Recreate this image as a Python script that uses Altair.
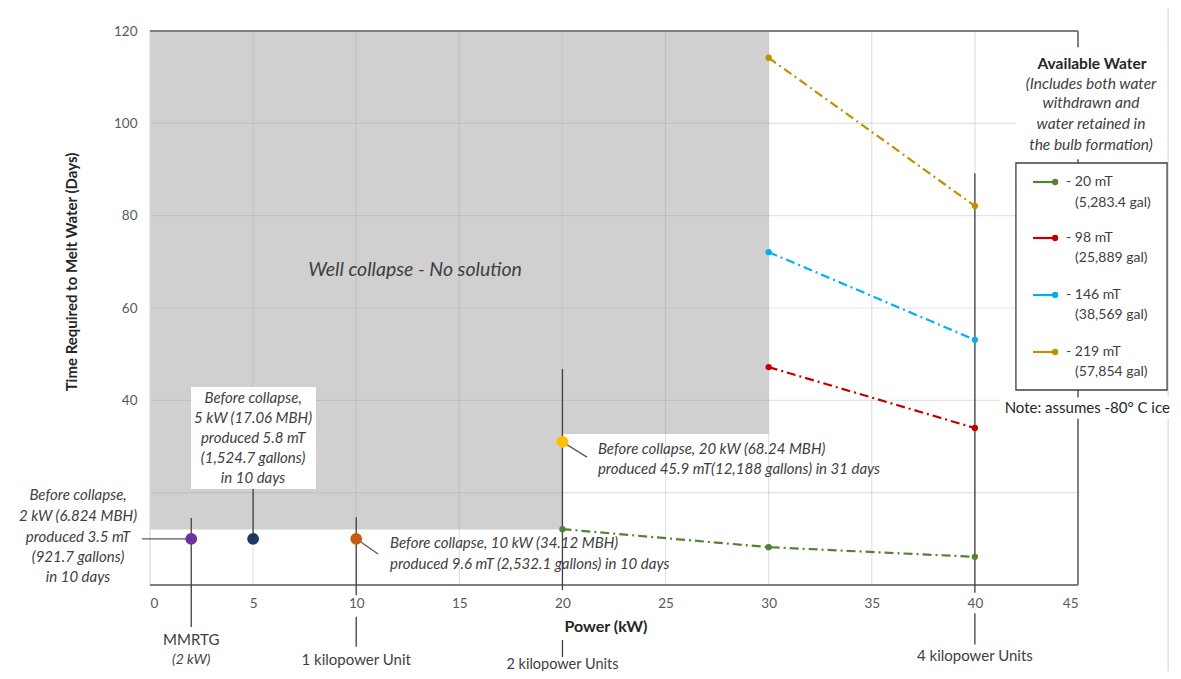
import altair as alt
import pandas as pd

# ---------------- data ----------------
x_ticks = [0, 5, 10, 15, 20, 25, 30, 35, 40, 45]
y_ticks = [20, 40, 60, 80, 100, 120]
x_grid = [5, 10, 15, 20, 25, 30, 35, 40]
y_grid = [20, 40, 60, 80, 100]

series_names = ["20 mT", "98 mT", "146 mT", "219 mT"]
series_gallons = ["(5,283.4 gal)", "(25,889 gal)", "(38,569 gal)", "(57,854 gal)"]
series_colors = ["#548235", "#C00000", "#00B0F0", "#BF9000"]
power_20mT = [20, 30, 40]
days_20mT = [12.1, 8.2, 6.1]
power_98mT = [30, 40]
days_98mT = [47.2, 34.0]
power_146mT = [30, 40]
days_146mT = [72.1, 53.1]
power_219mT = [30, 40]
days_219mT = [114.2, 82.1]

collapse_power = [2, 5, 10, 20]
collapse_days = [10, 10, 10, 31]
collapse_colors = ["#7030A0", "#1F3864", "#C55A11", "#FFC000"]

# "Well collapse - No solution" zone (kW from/to, days from/to)
zone_x = [0, 20]
zone_x2 = [20, 30]
zone_y = [12, 32.7]
zone_y2 = [120, 120]

FONT = "Lato"
TXT = "#404040"

# ---------------- scales ----------------
xs = alt.Scale(domain=[0, 45], nice=False, zero=False)
ys = alt.Scale(domain=[0, 120], nice=False, zero=False)
xaxis = alt.Axis(values=x_ticks, grid=False, domain=False, ticks=False, tickSize=0,
                 labelPadding=11, labelFontSize=13.5, labelColor="#595959",
                 labelFont=FONT, title=None)
yaxis = alt.Axis(values=y_ticks, grid=False, domain=False, ticks=False, tickSize=0,
                 labelPadding=13, labelFontSize=13.5, labelColor="#595959",
                 labelFont=FONT, title=None, labelExpr="datum.value < 30 ? '' : datum.label")


def X(f="x"):
    return alt.X(f"{f}:Q", scale=xs, axis=xaxis)


def Y(f="y"):
    return alt.Y(f"{f}:Q", scale=ys, axis=yaxis)


def rules(rows, color, width=1.0, opacity=1.0, dash=None):
    df = pd.DataFrame(rows, columns=["x", "x2", "y", "y2"])
    kw = dict(color=color, strokeWidth=width, opacity=opacity)
    if dash:
        kw["strokeDash"] = dash
    return alt.Chart(df).mark_rule(**kw).encode(x=X(), x2="x2:Q", y=Y(), y2="y2:Q")


def texts(rows, size=15, style="italic", weight="normal", align="center", color=TXT, angle=0):
    df = pd.DataFrame(rows, columns=["x", "y", "t"])
    return alt.Chart(df).mark_text(font=FONT, fontSize=size, fontStyle=style, fontWeight=weight,
                                   align=align, baseline="middle", color=color, angle=angle).encode(
        x=X(), y=Y(), text="t:N")


layers = []

# outer chart frame
layers.append(rules([[-6.93, -6.93, 126.7, -20.3], [49.37, 49.37, 126.7, -20.3]], "#d9d9d9", 1.2))

# gray no-solution zone
zone_df = pd.DataFrame({"x": zone_x, "x2": zone_x2, "y": zone_y, "y2": zone_y2})
layers.append(alt.Chart(zone_df).mark_rect(color="#D0D0D0").encode(x=X(), x2="x2:Q", y=Y(), y2="y2:Q"))

# gridlines
grid_rows = [[g, g, 0, 120] for g in x_grid] + [[0, 45, g, g] for g in y_grid]
layers.append(rules(grid_rows, "#a0a0a0", 1.2, 0.3))

# plot frame
layers.append(rules([[0, 0, 0, 120]], "#d9d9d9", 1.2))
layers.append(rules([[0, 45, 120, 120], [0, 45, 0, 0], [45, 45, 0, 120]], "#7f7f7f", 2))

# vertical annotation lines (behind points)
layers.append(rules([
    [2, 2, 14.5, -9.1],
    [10, 10, 14.7, -2.2], [10, 10, -6.9, -13.4],
    [20, 20, 46.8, -1.1], [20, 20, -11.9, -15.6],
    [40, 40, 89.2, -1.7], [40, 40, -6.1, -12.9],
    [5, 5, 20.8, 10],
], "#404040", 1.3))
# connectors
layers.append(rules([
    [-0.39, 2, 10, 10],
    [10, 11.06, 10, 6.7],
    [20, 21.19, 31, 27.7],
], "#595959", 1.3))

# series lines
rows = []
for name, px, dy in zip(series_names, [power_20mT, power_98mT, power_146mT, power_219mT],
                        [days_20mT, days_98mT, days_146mT, days_219mT]):
    for a, b in zip(px, dy):
        rows.append({"s": name, "x": a, "y": b})
sdf = pd.DataFrame(rows)
cscale = alt.Scale(domain=series_names, range=series_colors)
layers.append(alt.Chart(sdf).mark_line(strokeWidth=2.2, strokeDash=[9, 4, 2, 4]).encode(
    x=X(), y=Y(), color=alt.Color("s:N", scale=cscale, legend=None), detail="s:N"))
layers.append(alt.Chart(sdf).mark_point(filled=True, size=40, opacity=1).encode(
    x=X(), y=Y(), color=alt.Color("s:N", scale=cscale, legend=None)))

# 5 kW annotation box
layers.append(alt.Chart(pd.DataFrame({"x": [1.99], "x2": [8.05], "y": [20.8], "y2": [42.9]})).mark_rect(
    color="white").encode(x=X(), x2="x2:Q", y=Y(), y2="y2:Q"))

# before collapse dots
cdf = pd.DataFrame({"x": collapse_power, "y": collapse_days, "c": collapse_colors})
layers.append(alt.Chart(cdf).mark_point(filled=True, size=140, opacity=1).encode(
    x=X(), y=Y(), color=alt.Color("c:N", scale=None)))

# legend
layers.append(alt.Chart(pd.DataFrame({"x": [41.99], "x2": [49.32], "y": [92.2], "y2": [116.5]})).mark_rect(
    color="white").encode(x=X(), x2="x2:Q", y=Y(), y2="y2:Q"))
layers.append(alt.Chart(pd.DataFrame({"x": [41.99], "x2": [49.32], "y": [42.24], "y2": [91.41]})).mark_rect(
    fill="white", stroke="#404040", strokeWidth=1.3).encode(x=X(), x2="x2:Q", y=Y(), y2="y2:Q"))
layers.append(alt.Chart(pd.DataFrame({"x": [41.2], "x2": [49.6], "y": [36.0], "y2": [40.6]})).mark_rect(
    color="white").encode(x=X(), x2="x2:Q", y=Y(), y2="y2:Q"))
leg_y1 = [87.29, 75.16, 62.81, 50.47]
leg_y2 = [82.74, 70.83, 58.48, 46.14]
ldf = pd.DataFrame({"x": [42.82] * 4, "x2": [44.03] * 4, "y": leg_y1, "s": series_names})
layers.append(alt.Chart(ldf).mark_rule(strokeWidth=2.2).encode(
    x=X(), x2="x2:Q", y=Y(), color=alt.Color("s:N", scale=cscale, legend=None)))
ldf2 = pd.DataFrame({"x": [43.89] * 4, "y": leg_y1, "s": series_names})
layers.append(alt.Chart(ldf2).mark_point(filled=True, size=40, opacity=1).encode(
    x=X(), y=Y(), color=alt.Color("s:N", scale=cscale, legend=None)))
layers.append(texts([[44.42, y, "- " + n] for y, n in zip(leg_y1, series_names)],
                    size=14, style="normal", align="left"))
layers.append(texts([[44.86, y, g] for y, g in zip(leg_y2, series_gallons)],
                    size=14, style="normal", align="left"))
layers.append(texts([[45.68, 112.85, "Available Water"]], size=15.5, style="normal", weight="bold",
                    color="#262626"))
layers.append(texts([
    [45.63, 108.5, "(Includes both water"],
    [45.63, 104.4, "withdrawn and"],
    [45.63, 99.85, "water retained in"],
    [45.63, 95.3, "the bulb formation)"],
], size=15.5))
layers.append(texts([[45.45, 38.34, "Note:  assumes -80° C ice"]], size=15, style="normal", color="#262626"))

# annotations
layers.append(texts([
    [-3.49, 19.5, "Before collapse,"],
    [-3.49, 14.95, "2 kW (6.824 MBH)"],
    [-3.49, 10.4, "produced 3.5 mT"],
    [-3.49, 6.06, "(921.7 gallons)"],
    [-3.49, 1.73, "in 10 days"],
]))
layers.append(texts([
    [5.0, 40.5, "Before collapse,"],
    [5.0, 36.17, "5 kW (17.06 MBH)"],
    [5.0, 31.84, "produced 5.8 mT"],
    [5.0, 27.51, "(1,524.7 gallons)"],
    [5.0, 23.18, "in 10 days"],
]))
layers.append(texts([
    [11.64, 9.1, "Before collapse, 10 kW (34.12 MBH)"],
    [11.64, 4.55, "produced 9.6 mT (2,532.1 gallons) in 10 days"],
], align="left"))
layers.append(texts([
    [21.72, 29.46, "Before collapse, 20  kW (68.24 MBH)"],
    [21.72, 25.13, "produced 45.9 mT(12,188  gallons) in 31  days"],
], align="left"))
layers.append(texts([[12.85, 68.2, "Well collapse - No solution"]], size=19.5))

# below-axis labels
layers.append(texts([
    [2, -11.9, "MMRTG"],
    [10, -16.3, "1 kilopower Unit"],
    [40, -15.38, "4 kilopower Units"],
], size=15, style="normal"))
layers.append(texts([[20, -17.3, "2 kilopower Units"]], size=14.5, style="normal"))
layers.append(texts([[2, -16.25, "(2 kW)"]], size=14))

# axis titles
layers.append(texts([[22.11, -9.1, "Power (kW)"]], size=16, style="normal", weight="bold", color="#262626"))
layers.append(texts([[-3.78, 67.8, "Time Required to Melt Water (Days)"]], size=15, style="normal",
                    weight="bold", color="#262626", angle=270))

chart = alt.layer(*layers).properties(
    width=928, height=554,
    padding={"left": 142, "top": 23, "right": 95, "bottom": 86},
    autosize=alt.AutoSizeParams(type="none"),
    background="white",
).configure_view(strokeWidth=0)

chart.save("out.html", embed_options={"renderer": "svg", "actions": False})
